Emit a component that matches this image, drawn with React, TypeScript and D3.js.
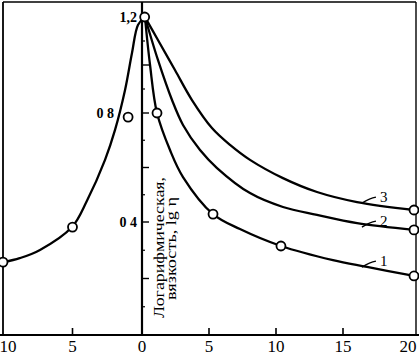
import React from "react";
import * as d3 from "d3";

// ---- data ----
const xTickValues = [-10, -5, 0, 5, 10, 15, 20];
const xTickLabels = ["10", "5", "0", "5", "10", "15", "20"];
const yTickValues = [0.4, 0.8, 1.2];
const yTickLabels = ["0 4", "0 8", "1,2"];
const yMajorTicks = [0.2, 0.4, 0.6, 0.8, 1.0];
const yMinorTicks = [0.1, 0.3, 0.5, 0.7, 0.9, 1.1];

// left branch (negative x)
const leftX = [-9.93, -8.8, -7.34, -5.04, -3.96, -2.66, -1.94, -1.22, -0.72, -0.29, 0.2];
const leftY = [0.258, 0.272, 0.301, 0.382, 0.478, 0.628, 0.738, 0.896, 1.05, 1.167, 1.2];
const leftPointsX = [-10, -5, -1.0, 0.2];
const leftPointsY = [0.258, 0.382, 0.785, 1.2];

// right branch curves 1, 2, 3
const curve1X = [0.22, 0.6, 1.12, 2.09, 3.06, 5.3, 7.31, 10.37, 14.25, 16.69, 20];
const curve1Y = [1.2, 1.0, 0.8, 0.664, 0.565, 0.429, 0.375, 0.315, 0.265, 0.241, 0.209];
const curve2X = [0.22, 1.19, 2.24, 3.06, 4.33, 5.6, 8.06, 10.52, 13.06, 15.99, 20];
const curve2Y = [1.2, 1.021, 0.854, 0.756, 0.664, 0.598, 0.506, 0.455, 0.426, 0.396, 0.372];
const curve3X = [0.22, 1.19, 2.46, 3.73, 5.22, 6.57, 8.06, 10.52, 13.06, 15.99, 20];
const curve3Y = [1.2, 1.104, 0.979, 0.854, 0.745, 0.683, 0.628, 0.561, 0.51, 0.473, 0.444];

const curve1PointsX = [1.12, 5.3, 10.37, 20];
const curve1PointsY = [0.8, 0.429, 0.315, 0.209];
const curve2PointsX = [20];
const curve2PointsY = [0.372];
const curve3PointsX = [20];
const curve3PointsY = [0.444];

const curveNames = ["1", "2", "3"];
const curveLabelX = [17.6, 17.6, 17.6];
const curveLabelY = [0.265, 0.407, 0.495];

const axisTitle1 = "Логарифмическая,";
const axisTitle2 = "вязкость, lg η";

// ---- scales ----
const xScale = d3.scaleLinear().domain([-10, 0, 15, 20]).range([3, 142, 343, 414]);
const yScale = d3.scaleLinear().domain([0, 0.4, 0.8, 1.2]).range([335, 222, 113, 17]);

const lineGen = d3
  .line<[number, number]>()
  .x((d) => xScale(d[0]))
  .y((d) => yScale(d[1]))
  .curve(d3.curveCatmullRom.alpha(0.5));

const zip = (xs: number[], ys: number[]): [number, number][] => xs.map((x, i) => [x, ys[i]]);

const FONT = "'Liberation Serif', 'DejaVu Serif', serif";

export default function App() {
  const curves = [zip(leftX, leftY), zip(curve1X, curve1Y), zip(curve2X, curve2Y), zip(curve3X, curve3Y)];
  const points = [
    ...zip(leftPointsX, leftPointsY),
    ...zip(curve1PointsX, curve1PointsY),
    ...zip(curve2PointsX, curve2PointsY),
    ...zip(curve3PointsX, curve3PointsY),
  ];
  const x0 = xScale(-10);
  const x1 = xScale(20) + 2;
  const yb = yScale(0);
  const yt = 2;
  const ax = xScale(0);

  return (
    <svg
      width={419}
      height={355}
      style={{ position: "absolute", left: 0, top: 0, background: "#fff" }}
      fontFamily={FONT}
    >
      <rect x={0} y={0} width={419} height={355} fill="#fff" />
      {/* frame */}
      <line x1={x0} y1={yt} x2={x1} y2={yt} stroke="#000" strokeWidth={1.6} />
      <line x1={x0} y1={yt} x2={x0} y2={yb} stroke="#000" strokeWidth={1.8} />
      <line x1={x1} y1={yt} x2={x1} y2={yb} stroke="#000" strokeWidth={1.4} />
      {/* x axis */}
      <line x1={0} y1={yb} x2={419} y2={yb} stroke="#000" strokeWidth={2.2} />
      {xTickValues.map((v, i) => {
        const px = xScale(v);
        const tx = Math.max(8, Math.min(408, px));
        return (
          <g key={"xt" + i}>
            {v !== 0 && v !== -10 && v !== 20 && (
              <line x1={px} y1={yb} x2={px} y2={yb - 7} stroke="#000" strokeWidth={1.6} />
            )}
            <text x={tx} y={yb + 17} fontSize={17} textAnchor="middle" fill="#000">
              {xTickLabels[i]}
            </text>
          </g>
        );
      })}
      {/* y axis */}
      <line x1={ax} y1={yt} x2={ax} y2={yb} stroke="#000" strokeWidth={2.2} />
      {yMajorTicks.map((v, i) => (
        <line key={"ym" + i} x1={ax} y1={yScale(v)} x2={ax + 7} y2={yScale(v)} stroke="#000" strokeWidth={1.4} />
      ))}
      {yMinorTicks.map((v, i) => (
        <line key={"yn" + i} x1={ax} y1={yScale(v)} x2={ax + 3} y2={yScale(v)} stroke="#000" strokeWidth={1.2} />
      ))}
      {yTickValues.map((v, i) => (
        <text
          key={"yl" + i}
          x={v === 0.8 ? ax - 28 : ax - 5}
          y={yScale(v) + 5}
          fontSize={14}
          fontWeight="bold"
          textAnchor="end"
          fill="#000"
        >
          {yTickLabels[i]}
        </text>
      ))}
      {/* axis title */}
      <text
        transform={`translate(164, 318) rotate(-90)`}
        fontSize={15}
        textLength={141}
        lengthAdjust="spacingAndGlyphs"
        fill="#000"
      >
        {axisTitle1}
      </text>
      <text
        transform={`translate(176, 300) rotate(-90)`}
        fontSize={15}
        textLength={103}
        lengthAdjust="spacingAndGlyphs"
        fill="#000"
      >
        {axisTitle2}
      </text>
      {/* curves */}
      {curves.map((c, i) => (
        <path key={"c" + i} d={lineGen(c) || ""} fill="none" stroke="#000" strokeWidth={2.3} />
      ))}
      {/* curve labels */}
      {curveNames.map((n, i) => {
        const lx = xScale(curveLabelX[i]);
        const ly = yScale(curveLabelY[i]);
        return (
          <g key={"lab" + i}>
            <path
              d={`M${lx - 18},${ly + 7} Q${lx - 10},${ly + 2} ${lx - 4},${ly + 1}`}
              fill="none"
              stroke="#000"
              strokeWidth={1.3}
            />
            <text x={lx} y={ly + 6} fontSize={15} fill="#000">
              {n}
            </text>
          </g>
        );
      })}
      {/* points */}
      {points.map((p, i) => (
        <circle
          key={"p" + i}
          cx={xScale(p[0])}
          cy={yScale(p[1])}
          r={4.5}
          fill="#fff"
          stroke="#000"
          strokeWidth={1.8}
        />
      ))}
    </svg>
  );
}
